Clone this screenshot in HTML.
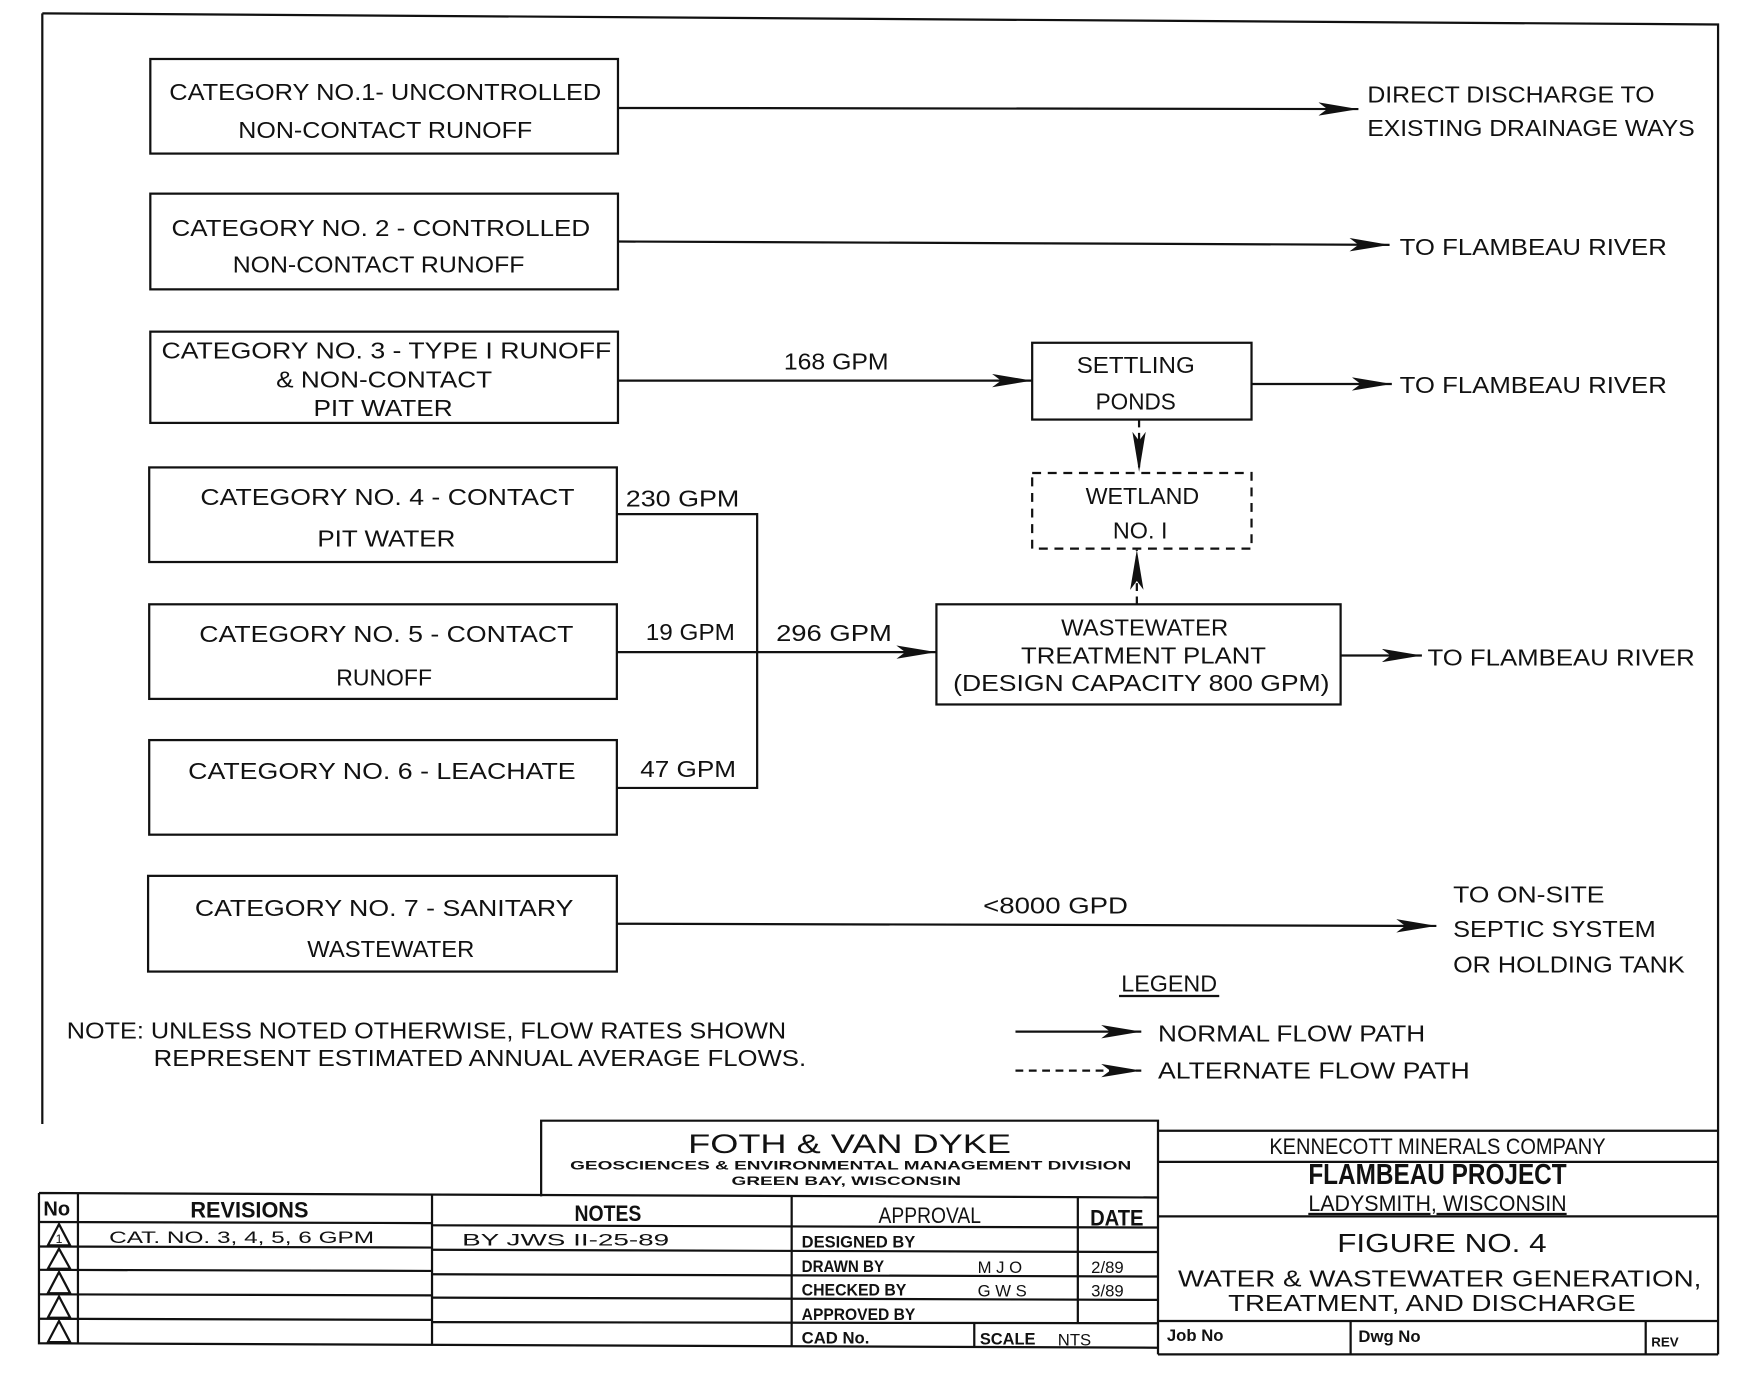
<!DOCTYPE html>
<html><head><meta charset="utf-8"><style>
html,body{margin:0;padding:0;background:#fff;}
svg{display:block;}
text{font-family:"Liberation Sans",sans-serif;fill:#111;}
</style></head><body>
<svg width="1737" height="1380" viewBox="0 0 1560 1240" preserveAspectRatio="none" xmlns="http://www.w3.org/2000/svg">
<defs>
<marker id="a" markerWidth="36" markerHeight="12" refX="36" refY="6" orient="auto" markerUnits="userSpaceOnUse">
<path d="M0,0 L36,6 L0,12 L8,6 Z" fill="#111"/></marker>
</defs>
<g stroke="#111" stroke-width="2" fill="none">
<path d="M38,12 L1543,22 L1543,1217"/>
<path d="M38,12 L38,1010"/>
<rect x="135" y="53" width="420" height="85"/>
<rect x="135" y="174" width="420" height="86"/>
<rect x="135" y="298" width="420" height="82"/>
<rect x="134" y="420" width="420" height="85"/>
<rect x="134" y="543" width="420" height="85"/>
<rect x="134" y="665" width="420" height="85"/>
<rect x="133" y="787" width="421" height="86"/>
<rect x="927" y="308" width="197" height="69"/>
<rect x="927" y="425" width="197" height="68" stroke-dasharray="8,6"/>
<rect x="841" y="543" width="363" height="90"/>
<line x1="555" y1="97" x2="1220" y2="98" marker-end="url(#a)"/>
<line x1="555" y1="217" x2="1248" y2="220" marker-end="url(#a)"/>
<line x1="555" y1="342" x2="927" y2="342" marker-end="url(#a)"/>
<line x1="1124" y1="345" x2="1250" y2="345" marker-end="url(#a)"/>
<line x1="1023" y1="377" x2="1023" y2="424" stroke-dasharray="7,5" marker-end="url(#a)"/>
<line x1="1021" y1="543" x2="1021" y2="494" stroke-dasharray="7,5" marker-end="url(#a)"/>
<path d="M554,462 L680,462 L680,708 L554,708"/>
<line x1="554" y1="586" x2="841" y2="586" marker-end="url(#a)"/>
<line x1="1204" y1="589" x2="1277" y2="589" marker-end="url(#a)"/>
<line x1="554" y1="830" x2="1290" y2="832" marker-end="url(#a)"/>
<line x1="912" y1="927" x2="1025" y2="927" marker-end="url(#a)"/>
<line x1="912" y1="962" x2="1025" y2="962" stroke-dasharray="7,5" marker-end="url(#a)"/>
<line x1="1005" y1="895" x2="1095" y2="895"/>
<path d="M486,1075 L486,1007 L1040,1007 L1040,1217"/>
<path d="M1040,1016 L1543,1016 M1040,1044 L1543,1044 M1040,1093 L1543,1093 M1040,1187 L1543,1187 M1040,1217 L1543,1217"/>
<path d="M1213,1187 L1213,1217 M1478,1187 L1478,1217"/>
<path d="M35,1072 L1040,1076 M35,1072 L35,1207 L1040,1211"/>
<path d="M35,1098 L388,1099 M35,1120 L388,1121 M35,1141 L388,1142 M35,1163 L388,1164 M35,1185 L388,1186"/>
<path d="M70,1072 L70,1207 M388,1073 L388,1208 M711,1075 L711,1210 M968,1076 L968,1189"/>
<path d="M388,1101 L1040,1103 M388,1123 L1040,1125 M388,1145 L1040,1147 M388,1166 L1040,1168 M388,1188 L1040,1189"/>
<path d="M875,1189 L875,1210"/>
</g>
<g fill="none" stroke="#111" stroke-width="2">
<path d="M53,1100 L43,1119 L63,1119 Z"/><path d="M53,1122 L43,1140 L63,1140 Z"/><path d="M53,1143 L43,1162 L63,1162 Z"/><path d="M53,1165 L43,1184 L63,1184 Z"/><path d="M53,1187 L43,1206 L63,1206 Z"/>
</g>
<g font-size="21" text-anchor="middle">
<text x="346" y="90" textLength="388" lengthAdjust="spacingAndGlyphs">CATEGORY NO.1- UNCONTROLLED</text>
<text x="346" y="124" textLength="264" lengthAdjust="spacingAndGlyphs">NON-CONTACT RUNOFF</text>
<text x="342" y="212" textLength="376" lengthAdjust="spacingAndGlyphs">CATEGORY NO. 2 - CONTROLLED</text>
<text x="340" y="245" textLength="262" lengthAdjust="spacingAndGlyphs">NON-CONTACT RUNOFF</text>
<text x="347" y="322" textLength="404" lengthAdjust="spacingAndGlyphs">CATEGORY NO. 3 - TYPE I RUNOFF</text>
<text x="345" y="348" textLength="194" lengthAdjust="spacingAndGlyphs">&amp; NON-CONTACT</text>
<text x="344" y="374" textLength="125" lengthAdjust="spacingAndGlyphs">PIT WATER</text>
<text x="348" y="454" textLength="336" lengthAdjust="spacingAndGlyphs">CATEGORY NO. 4 - CONTACT</text>
<text x="347" y="491" textLength="124" lengthAdjust="spacingAndGlyphs">PIT WATER</text>
<text x="347" y="577" textLength="336" lengthAdjust="spacingAndGlyphs">CATEGORY NO. 5 - CONTACT</text>
<text x="345" y="616" textLength="86" lengthAdjust="spacingAndGlyphs">RUNOFF</text>
<text x="343" y="700" textLength="348" lengthAdjust="spacingAndGlyphs">CATEGORY NO. 6 - LEACHATE</text>
<text x="345" y="823" textLength="340" lengthAdjust="spacingAndGlyphs">CATEGORY NO. 7 - SANITARY</text>
<text x="351" y="860" textLength="150" lengthAdjust="spacingAndGlyphs">WASTEWATER</text>
<text x="1020" y="335" textLength="106" lengthAdjust="spacingAndGlyphs">SETTLING</text>
<text x="1020" y="368" textLength="72" lengthAdjust="spacingAndGlyphs">PONDS</text>
<text x="1026" y="453" textLength="102" lengthAdjust="spacingAndGlyphs">WETLAND</text>
<text x="1024" y="484">NO. I</text>
<text x="1028" y="571" textLength="150" lengthAdjust="spacingAndGlyphs">WASTEWATER</text>
<text x="1027" y="596" textLength="220" lengthAdjust="spacingAndGlyphs">TREATMENT PLANT</text>
<text x="1025" y="621" textLength="338" lengthAdjust="spacingAndGlyphs">(DESIGN CAPACITY 800 GPM)</text>
<text x="751" y="332" textLength="94" lengthAdjust="spacingAndGlyphs">168 GPM</text>
<text x="620" y="575" textLength="80" lengthAdjust="spacingAndGlyphs">19 GPM</text>
<text x="749" y="576" textLength="104" lengthAdjust="spacingAndGlyphs">296 GPM</text>
<text x="618" y="698" textLength="86" lengthAdjust="spacingAndGlyphs">47 GPM</text>
<text x="948" y="821" textLength="130" lengthAdjust="spacingAndGlyphs">&lt;8000 GPD</text>
<text x="1050" y="891" textLength="86" lengthAdjust="spacingAndGlyphs">LEGEND</text>
</g>
<g font-size="21">
<text x="562" y="455" textLength="102" lengthAdjust="spacingAndGlyphs">230 GPM</text>
<text x="1228" y="92" textLength="258" lengthAdjust="spacingAndGlyphs">DIRECT DISCHARGE TO</text>
<text x="1228" y="122" textLength="294" lengthAdjust="spacingAndGlyphs">EXISTING DRAINAGE WAYS</text>
<text x="1257" y="229" textLength="240" lengthAdjust="spacingAndGlyphs">TO FLAMBEAU RIVER</text>
<text x="1257" y="353" textLength="240" lengthAdjust="spacingAndGlyphs">TO FLAMBEAU RIVER</text>
<text x="1282" y="598" textLength="240" lengthAdjust="spacingAndGlyphs">TO FLAMBEAU RIVER</text>
<text x="1305" y="811" textLength="136" lengthAdjust="spacingAndGlyphs">TO ON-SITE</text>
<text x="1305" y="842" textLength="182" lengthAdjust="spacingAndGlyphs">SEPTIC SYSTEM</text>
<text x="1305" y="874" textLength="208" lengthAdjust="spacingAndGlyphs">OR HOLDING TANK</text>
<text x="1040" y="936" textLength="240" lengthAdjust="spacingAndGlyphs">NORMAL FLOW PATH</text>
<text x="1040" y="969" textLength="280" lengthAdjust="spacingAndGlyphs">ALTERNATE FLOW PATH</text>
<text x="60" y="933" textLength="646" lengthAdjust="spacingAndGlyphs">NOTE: UNLESS NOTED OTHERWISE, FLOW RATES SHOWN</text>
<text x="138" y="958" textLength="586" lengthAdjust="spacingAndGlyphs">REPRESENT ESTIMATED ANNUAL AVERAGE FLOWS.</text>
</g>
<g text-anchor="middle">
<text x="763" y="1036" font-size="24" textLength="290" lengthAdjust="spacingAndGlyphs">FOTH &amp; VAN DYKE</text>
<text x="764" y="1051" font-size="11" font-weight="bold" textLength="504" lengthAdjust="spacingAndGlyphs">GEOSCIENCES &amp; ENVIRONMENTAL MANAGEMENT DIVISION</text>
<text x="760" y="1065" font-size="11" font-weight="bold" textLength="206" lengthAdjust="spacingAndGlyphs">GREEN BAY, WISCONSIN</text>
<text x="1291" y="1037" font-size="20" textLength="302" lengthAdjust="spacingAndGlyphs">KENNECOTT MINERALS COMPANY</text>
<text x="1291" y="1064" font-size="26" font-weight="bold" textLength="232" lengthAdjust="spacingAndGlyphs">FLAMBEAU PROJECT</text>
<text x="1291" y="1088" font-size="20" text-decoration="underline" textLength="232" lengthAdjust="spacingAndGlyphs">LADYSMITH, WISCONSIN</text>
<text x="1295" y="1125" font-size="23" textLength="188" lengthAdjust="spacingAndGlyphs">FIGURE NO. 4</text>
<text x="1293" y="1156" font-size="21" textLength="470" lengthAdjust="spacingAndGlyphs">WATER &amp; WASTEWATER GENERATION,</text>
<text x="1286" y="1178" font-size="21" textLength="366" lengthAdjust="spacingAndGlyphs">TREATMENT, AND DISCHARGE</text>
<text x="224" y="1094" font-size="20" font-weight="bold" textLength="106" lengthAdjust="spacingAndGlyphs">REVISIONS</text>
<text x="546" y="1097" font-size="20" font-weight="bold" textLength="60" lengthAdjust="spacingAndGlyphs">NOTES</text>
<text x="835" y="1099" font-size="20" textLength="92" lengthAdjust="spacingAndGlyphs">APPROVAL</text>
<text x="1003" y="1101" font-size="20" font-weight="bold" textLength="48" lengthAdjust="spacingAndGlyphs">DATE</text>
</g>
<g font-size="15">
<text x="39" y="1092" font-size="18" font-weight="bold">No</text>
<text x="98" y="1117" textLength="238" lengthAdjust="spacingAndGlyphs">CAT. NO. 3, 4, 5, 6  GPM</text>
<text x="415" y="1119" textLength="186" lengthAdjust="spacingAndGlyphs">BY JWS II-25-89</text>
<text x="720" y="1121" font-weight="bold" textLength="102" lengthAdjust="spacingAndGlyphs">DESIGNED BY</text>
<text x="720" y="1143" font-weight="bold" textLength="74" lengthAdjust="spacingAndGlyphs">DRAWN BY</text>
<text x="720" y="1164" font-weight="bold" textLength="94" lengthAdjust="spacingAndGlyphs">CHECKED BY</text>
<text x="720" y="1186" font-weight="bold" textLength="102" lengthAdjust="spacingAndGlyphs">APPROVED BY</text>
<text x="720" y="1207" font-weight="bold">CAD No.</text>
<text x="880" y="1208" font-weight="bold" textLength="50" lengthAdjust="spacingAndGlyphs">SCALE</text>
<text x="950" y="1209">NTS</text>
<text x="878" y="1144">M J O</text>
<text x="878" y="1165">G W S</text>
<text x="980" y="1144">2/89</text>
<text x="980" y="1165">3/89</text>
<text x="1048" y="1205" font-weight="bold">Job No</text>
<text x="1220" y="1206" font-weight="bold">Dwg No</text>
<text x="1483" y="1210" font-size="12" font-weight="bold">REV</text>
</g>
<g font-size="11" text-anchor="middle"><text x="53" y="1117">1</text></g>
</svg>
</body></html>
